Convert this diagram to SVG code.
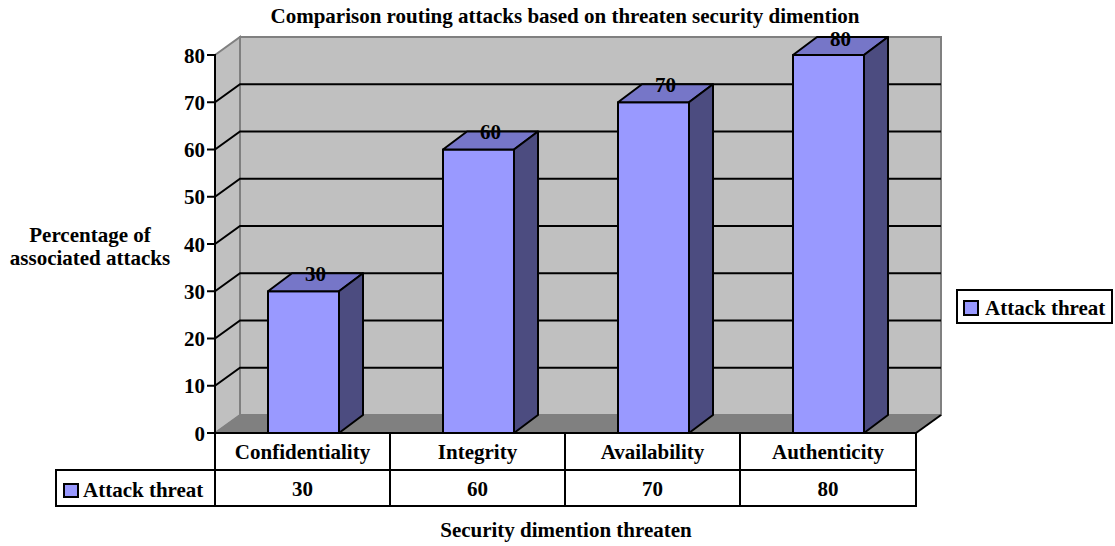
<svg xmlns="http://www.w3.org/2000/svg" width="1115" height="546" viewBox="0 0 1115 546">
  <style>
    text { font-family: "Liberation Serif", "Times New Roman", serif; font-weight: bold; font-size: 21px; fill: #000; }
    .mid { text-anchor: middle; }
    .end { text-anchor: end; }
    .wall { fill: #c0c0c0; stroke: #808080; stroke-width: 2; stroke-linejoin: miter; }
    .floor { fill: #808080; stroke: #808080; stroke-width: 1; }
    .grid { stroke: #000; stroke-width: 2; fill: none; }
    .front { fill: #9999ff; stroke: #000; stroke-width: 2; stroke-linejoin: round; }
    .top { fill: #7676c8; stroke: #000; stroke-width: 2; stroke-linejoin: round; }
    .side { fill: #4c4c80; stroke: #000; stroke-width: 2; stroke-linejoin: round; }
    .cell { fill: #fff; stroke: #000; stroke-width: 2; }
    .swatch { fill: #9999ff; stroke: #000; stroke-width: 2; }
  </style>

  <rect x="0" y="0" width="1115" height="546" fill="#fff"/>

  <!-- title -->
  <text class="mid" x="565" y="23">Comparison routing attacks based on threaten security dimention</text>

  <!-- plot walls and floor -->
  <g id="walls">
    <polygon class="wall" points="215,55 240,37 240,415 215,433"/>
    <rect class="wall" x="240" y="37" width="701" height="378"/>
    <polygon class="floor" points="215,433 240,415 941,415 916,433"/>
    <line x1="941" y1="415" x2="916" y2="433" stroke="#000" stroke-width="2"/>
  </g>

  <!-- gridlines: 10 to 70 -->
  <g id="gridlines" class="grid">
    <polyline points="215,385.75 240,367.75 941,367.75"/>
    <polyline points="215,338.5 240,320.5 941,320.5"/>
    <polyline points="215,291.25 240,273.25 941,273.25"/>
    <polyline points="215,244 240,226 941,226"/>
    <polyline points="215,196.75 240,178.75 941,178.75"/>
    <polyline points="215,149.5 240,131.5 941,131.5"/>
    <polyline points="215,102.25 240,84.25 941,84.25"/>
  </g>

  <!-- bars -->
  <g id="bar-confidentiality">
    <rect class="front" x="268" y="291.25" width="71" height="141.75"/>
    <polygon class="top" points="268,291.25 292,273.25 363,273.25 339,291.25"/>
    <polygon class="side" points="339,291.25 363,273.25 363,415 339,433"/>
    <text class="mid" x="315.5" y="280.5">30</text>
  </g>
  <g id="bar-integrity">
    <rect class="front" x="443" y="149.5" width="71" height="283.5"/>
    <polygon class="top" points="443,149.5 467,131.5 538,131.5 514,149.5"/>
    <polygon class="side" points="514,149.5 538,131.5 538,415 514,433"/>
    <text class="mid" x="490.5" y="138.5">60</text>
  </g>
  <g id="bar-availability">
    <rect class="front" x="618" y="102.25" width="71" height="330.75"/>
    <polygon class="top" points="618,102.25 642,84.25 713,84.25 689,102.25"/>
    <polygon class="side" points="689,102.25 713,84.25 713,415 689,433"/>
    <text class="mid" x="665.5" y="91.5">70</text>
  </g>
  <g id="bar-authenticity">
    <rect class="front" x="793" y="55" width="71" height="378"/>
    <polygon class="top" points="793,55 817,37 888,37 864,55"/>
    <polygon class="side" points="864,55 888,37 888,415 864,433"/>
    <text class="mid" x="840.5" y="45.5">80</text>
  </g>

  <!-- value axis -->
  <g id="value-axis">
    <line x1="215" y1="54" x2="215" y2="434" stroke="#000" stroke-width="2"/>
    <g stroke="#000" stroke-width="2">
      <line x1="207" y1="433" x2="215" y2="433"/>
      <line x1="207" y1="385.75" x2="215" y2="385.75"/>
      <line x1="207" y1="338.5" x2="215" y2="338.5"/>
      <line x1="207" y1="291.25" x2="215" y2="291.25"/>
      <line x1="207" y1="244" x2="215" y2="244"/>
      <line x1="207" y1="196.75" x2="215" y2="196.75"/>
      <line x1="207" y1="149.5" x2="215" y2="149.5"/>
      <line x1="207" y1="102.25" x2="215" y2="102.25"/>
      <line x1="207" y1="55" x2="215" y2="55"/>
    </g>
    <text class="end" x="205" y="440.5">0</text>
    <text class="end" x="205" y="393.25">10</text>
    <text class="end" x="205" y="346">20</text>
    <text class="end" x="205" y="298.75">30</text>
    <text class="end" x="205" y="251.5">40</text>
    <text class="end" x="205" y="204.25">50</text>
    <text class="end" x="205" y="157">60</text>
    <text class="end" x="205" y="109.75">70</text>
    <text class="end" x="205" y="62.5">80</text>
  </g>

  <!-- axis titles -->
  <text class="mid" x="90" y="242">Percentage of</text>
  <text class="mid" x="90" y="265">associated attacks</text>
  <text class="mid" x="566" y="537">Security dimention threaten</text>

  <!-- data table -->
  <g id="data-table">
    <rect class="cell" x="215" y="433" width="701" height="37"/>
    <rect class="cell" x="56" y="470" width="860" height="36"/>
    <g stroke="#000" stroke-width="2">
      <line x1="215" y1="433" x2="215" y2="506"/>
      <line x1="390" y1="433" x2="390" y2="506"/>
      <line x1="565" y1="433" x2="565" y2="506"/>
      <line x1="740" y1="433" x2="740" y2="506"/>
    </g>
    <text class="mid" x="302.5" y="459">Confidentiality</text>
    <text class="mid" x="477.5" y="459">Integrity</text>
    <text class="mid" x="652.5" y="459">Availability</text>
    <text class="mid" x="828" y="459">Authenticity</text>
    <rect class="swatch" x="64" y="484" width="14" height="13"/>
    <text x="83" y="497">Attack threat</text>
    <text class="mid" x="302.5" y="496">30</text>
    <text class="mid" x="477.5" y="496">60</text>
    <text class="mid" x="652.5" y="496">70</text>
    <text class="mid" x="828" y="496">80</text>
  </g>

  <!-- legend -->
  <g id="legend">
    <rect x="957" y="290" width="155" height="33" fill="#fff" stroke="#000" stroke-width="2"/>
    <rect class="swatch" x="964" y="301" width="14" height="14"/>
    <text x="985" y="315">Attack threat</text>
  </g>
</svg>
